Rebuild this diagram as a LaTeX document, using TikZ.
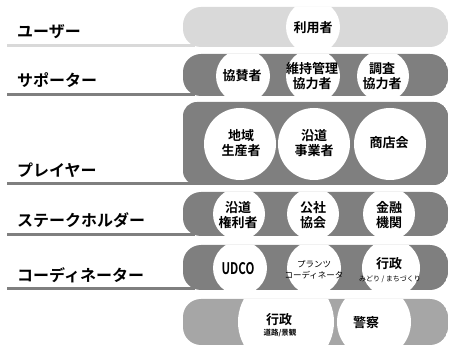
\documentclass[tikz,border=0pt]{standalone}
\usepackage{fontspec}
\usepackage{graphicx}
\newfontfamily\jp{Noto Sans CJK JP}[BoldFont={Noto Sans CJK JP Bold}]
\definecolor{bandlight}{HTML}{D9D9D9}
\definecolor{banddark}{HTML}{7F7F7F}
\definecolor{bandmid}{HTML}{A6A6A6}
\begin{document}
\begin{tikzpicture}[x=1pt,y=-1pt,
  rowlabel/.style={anchor=west,inner sep=0pt,font=\jp\bfseries\fontsize{16}{16}\selectfont},
  disc/.style={circle,fill=white,inner sep=0pt,minimum size=#1},
  ctext/.style={inner sep=0pt,align=center,font=\jp\bfseries\fontsize{13}{15.5}\selectfont},
  stext/.style={inner sep=0pt,align=center,font=\jp\bfseries\fontsize{7.5}{9}\selectfont},
  uline/.style={line width=3pt,#1}]
\useasboundingbox (0,0) rectangle (450,347);
% underlines
\coordinate (u1a) at (7,45.5);  \coordinate (u1b) at (195,45.5);
\coordinate (u2a) at (7,94.5);  \coordinate (u2b) at (195,94.5);
\coordinate (u3a) at (7,183.5); \coordinate (u3b) at (195,183.5);
\coordinate (u4a) at (7,234.5); \coordinate (u4b) at (195,234.5);
\coordinate (u5a) at (7,288.5); \coordinate (u5b) at (195,288.5);
\draw[uline=bandlight] (u1a) -- (u1b);
\draw[uline=banddark] (u2a) -- (u2b);
\draw[uline=banddark] (u3a) -- (u3b);
\draw[uline=banddark] (u4a) -- (u4b);
\draw[uline=banddark] (u5a) -- (u5b);
% labels
\node[rowlabel] (l1) at (17,32) {ユーザー};
\node[rowlabel] (l2) at (17,80) {サポーター};
\node[rowlabel] (l3) at (17,170) {プレイヤー};
\node[rowlabel] (l4) at (17,220) {ステークホルダー};
\node[rowlabel] (l5) at (17,275) {コーディネーター};
% row 1
\begin{scope}
\clip[rounded corners=18] (183,7) rectangle (448,47);
\fill[bandlight,rounded corners=18] (183,7) rectangle (448,47);
\node[disc=54] (c11) at (313,27) {};
\end{scope}
\node[ctext] (t11) at (313,28) {利用者};
% row 2
\begin{scope}
\clip[rounded corners=18] (183,54) rectangle (448,96);
\fill[banddark,rounded corners=18] (183,54) rectangle (448,96);
\node[disc=54] (c21) at (243,76) {};
\node[disc=54] (c22) at (313,76) {};
\node[disc=52] (c23) at (383,76) {};
\end{scope}
\node[ctext] (t21) at (242,76) {協賛者};
\node[ctext] (t22) at (312,76) {維持管理\\協力者};
\node[ctext] (t23) at (382,76) {調査\\協力者};
% row 3
\begin{scope}
\clip[rounded corners=14] (183,102) rectangle (448,185);
\fill[banddark,rounded corners=14] (183,102) rectangle (448,185);
\node[disc=72] (c31) at (240,144) {};
\node[disc=72] (c32) at (314,144) {};
\node[disc=72] (c33) at (390,144) {};
\end{scope}
\node[ctext] (t31) at (241,143) {地域\\生産者};
\node[ctext] (t32) at (314,143) {沿道\\事業者};
\node[ctext] (t33) at (389,143) {商店会};
% row 4
\begin{scope}
\clip[rounded corners=18] (183,192) rectangle (448,236);
\fill[banddark,rounded corners=18] (183,192) rectangle (448,236);
\node[disc=52] (c41) at (239,214) {};
\node[disc=52] (c42) at (313,214) {};
\node[disc=52] (c43) at (389,214) {};
\end{scope}
\node[ctext] (t41) at (238,215) {沿道\\権利者};
\node[ctext] (t42) at (313,215) {公社\\協会};
\node[ctext] (t43) at (389,215) {金融\\機関};
% row 5
\begin{scope}
\clip[rounded corners=18] (183,245) rectangle (448,290);
\fill[banddark,rounded corners=18] (183,245) rectangle (448,290);
\node[disc=54] (c51) at (240,268) {};
\node[disc=54] (c52) at (314,268) {};
\node[disc=58] (c53) at (391,268) {};
\end{scope}
\node[inner sep=0pt,font=\jp\bfseries\fontsize{16}{16}\selectfont] (t51) at (238,269) {\scalebox{0.72}[1]{UDCO}};
\node[stext,font=\jp\fontsize{8.5}{10.5}\selectfont] (t52) at (314,270) {プランツ\\コーディネータ};
\node[ctext] (t53a) at (389,264) {行政};
\node[stext,font=\jp\fontsize{7}{8}\selectfont] (t53b) at (390,279) {みどり / まちづくり};
% row 6
\begin{scope}
\clip[rounded corners=18] (183,299) rectangle (448,345);
\fill[bandmid,rounded corners=18] (183,299) rectangle (448,345);
\node[disc=96] (c61) at (286,322) {};
\node[disc=74] (c62) at (374,322) {};
\end{scope}
\node[ctext] (t61a) at (279,320) {行政};
\node[stext] (t61b) at (280,333) {道路/景観};
\node[ctext] (t62) at (366,323) {警察};
\end{tikzpicture}
\end{document}
